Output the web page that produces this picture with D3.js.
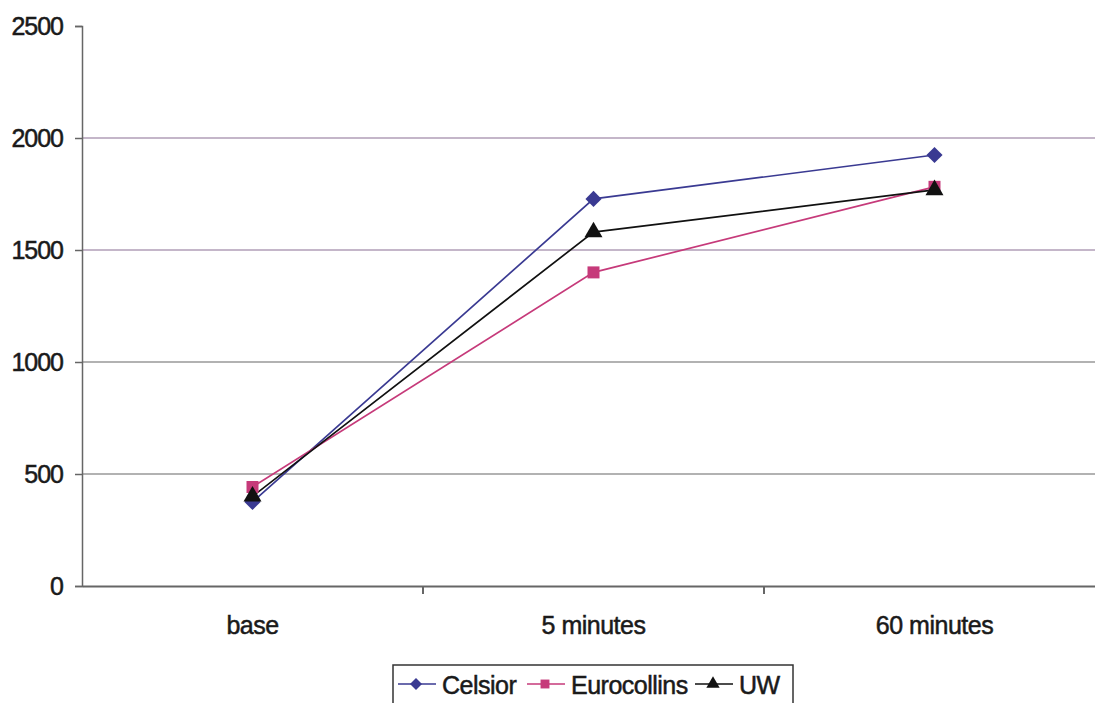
<!DOCTYPE html>
<meta charset="utf-8">
<style>
  body { margin: 0; background: #fff; }
  text { font-family: "Liberation Sans", Arial, sans-serif; fill: #1a1a1a; stroke: #1a1a1a; stroke-width: 0.5px; }
</style>
<body>
<svg id="chart" width="1095" height="703"></svg>
</body>
<script src="https://d3js.org/d3.v7.min.js"></script>
<script>
// chart data
var categories = ["base", "5 minutes", "60 minutes"];
var yTicks = [0, 500, 1000, 1500, 2000, 2500];
var celsior = [375, 1728, 1924];
var eurocollins = [442, 1400, 1782];
var uw = [400, 1580, 1768];

// fat diamond (rotated square) like the spreadsheet marker
var fatDiamond = {
  draw: function(ctx, size) {
    var r = Math.sqrt(size / 2);
    ctx.moveTo(0, -r); ctx.lineTo(r, 0); ctx.lineTo(0, r); ctx.lineTo(-r, 0); ctx.closePath();
  }
};

var series = [
  {name: "Celsior", values: celsior, color: "#3a3a92", symbol: fatDiamond, size: 130},
  {name: "Eurocollins", values: eurocollins, color: "#c63a7a", symbol: d3.symbolSquare, size: 144},
  {name: "UW", values: uw, color: "#111", symbol: d3.symbolTriangle, size: 140}
];

var margin = {top: 26, right: -10, bottom: 117, left: 82},
    width = 1095 - margin.left - margin.right,
    height = 703 - margin.top - margin.bottom;

var svg = d3.select("#chart");
var g = svg.append("g").attr("transform", "translate(" + margin.left + "," + margin.top + ")");

var x = d3.scaleBand().domain(categories).range([0, width]);
var y = d3.scaleLinear().domain([0, 2500]).range([height, 0]);

// gridlines
g.selectAll(".grid").data(yTicks.filter(function(d){ return d > 0 && d < 2500; }))
  .enter().append("line")
  .attr("x1", 0).attr("x2", width)
  .attr("y1", function(d){ return y(d); }).attr("y2", function(d){ return y(d); })
  .attr("stroke", function(d){ return d >= 1500 ? "#8a6f94" : "#666"; })
  .attr("stroke-width", 1.2);

// y axis
var yAxis = g.append("g")
  .call(d3.axisLeft(y).tickValues(yTicks).tickFormat(d3.format("d")).tickSize(7).tickPadding(12));
yAxis.select(".domain").attr("stroke", "#666").attr("stroke-width", 1.5);
yAxis.selectAll(".tick line").attr("stroke", "#666").attr("stroke-width", 1.5);
yAxis.selectAll("text").attr("font-size", 25).style("letter-spacing", "-1px").attr("fill", "#1a1a1a");

// x axis
var xAxis = g.append("g").attr("transform", "translate(0," + height + ")")
  .call(d3.axisBottom(x).tickSize(0).tickPadding(30));
xAxis.select(".domain").attr("stroke", "#666").attr("stroke-width", 1.8);
xAxis.selectAll("text").attr("font-size", 25).style("letter-spacing", "-0.5px").attr("fill", "#1a1a1a");
g.selectAll(".xtick").data(categories.slice(1))
  .enter().append("line")
  .attr("x1", function(d){ return x(d); }).attr("x2", function(d){ return x(d); })
  .attr("y1", height).attr("y2", height + 8)
  .attr("stroke", "#666").attr("stroke-width", 2);

// lines and markers
var line = d3.line()
  .x(function(d, i){ return x(categories[i]) + x.bandwidth() / 2; })
  .y(function(d){ return y(d); });

series.forEach(function(s){
  g.append("path").datum(s.values)
    .attr("d", line).attr("fill", "none")
    .attr("stroke", s.color).attr("stroke-width", 1.7);
});
series.forEach(function(s){
  g.selectAll(".m-" + s.name).data(s.values).enter().append("path")
    .attr("transform", function(d, i){
      return "translate(" + (x(categories[i]) + x.bandwidth() / 2) + "," + y(d) + ")";
    })
    .attr("d", d3.symbol().type(s.symbol).size(s.size))
    .attr("fill", s.color);
});

// legend
var legend = svg.append("g").attr("transform", "translate(393,665)");
legend.append("rect").attr("width", 400).attr("height", 50)
  .attr("fill", "none").attr("stroke", "#333").attr("stroke-width", 1.5);
var offsets = [5, 134, 302];
series.forEach(function(s, i){
  var lg = legend.append("g").attr("transform", "translate(" + offsets[i] + ",19)");
  lg.append("line").attr("x1", 0).attr("x2", 38).attr("stroke", s.color).attr("stroke-width", 1.7);
  lg.append("path").attr("transform", "translate(18,0)")
    .attr("d", d3.symbol().type(s.symbol).size(s.size * 0.55)).attr("fill", s.color);
  lg.append("text").attr("x", 44).attr("y", 10).text(s.name)
    .attr("font-size", 25).style("letter-spacing", "-0.5px");
});
</script>
